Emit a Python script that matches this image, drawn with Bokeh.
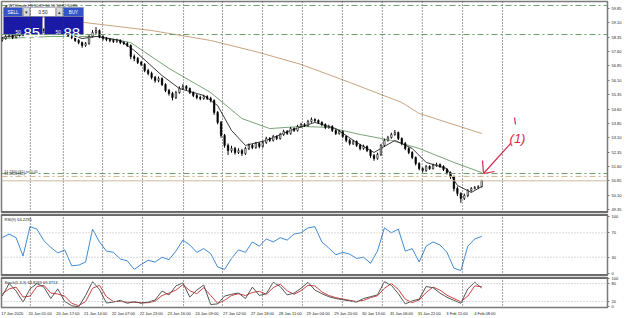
from bokeh.plotting import figure
from bokeh.layouts import column
from bokeh.models import Range1d, FixedTicker, Span, Label, ColumnDataSource
from bokeh.embed import file_html
from bokeh.resources import INLINE

# ---------------- data (2-hour bars, WTI crude) ----------------
opens = [58.20, 58.28, 58.39, 58.44, 58.33, 58.49, 58.44, 58.55, 58.60, 58.70,
         58.75, 58.81, 58.75, 58.70, 58.75, 58.70, 58.65, 58.65, 58.70, 58.55,
         58.44, 58.33, 58.18, 58.07, 57.92, 58.02, 58.39, 58.60, 58.70, 58.39,
         58.28, 58.23, 58.18, 58.13, 58.18, 58.07, 58.02, 57.92, 57.34, 57.24,
         57.03, 56.93, 56.61, 56.46, 56.25, 56.09, 56.19, 55.88, 55.57, 55.41,
         55.20, 55.46, 55.67, 55.78, 55.67, 55.46, 55.31, 55.20, 55.15, 55.25,
         55.15, 55.05, 54.42, 53.90, 53.22, 52.70, 52.43, 52.54, 52.33, 52.43,
         52.28, 52.54, 52.70, 52.59, 52.80, 52.64, 52.85, 53.06, 52.96, 53.16,
         53.06, 53.27, 53.43, 53.32, 53.58, 53.48, 53.69, 53.79, 53.74, 53.95,
         54.05, 54.00, 53.90, 53.79, 53.64, 53.69, 53.48, 53.32, 53.43, 53.16,
         52.96, 52.80, 52.90, 52.70, 52.54, 52.64, 52.43, 52.17, 52.02, 52.22,
         52.70, 52.96, 53.11, 53.27, 53.37, 53.06, 52.80, 52.54, 52.33, 52.07,
         51.75, 51.49, 51.39, 51.60, 51.49, 51.65, 51.70, 51.60, 51.44, 51.28,
         51.07, 50.45, 50.19, 49.93, 50.08, 50.34, 50.45, 50.50, 50.55]
highs = [58.36, 58.47, 58.55, 58.52, 58.58, 58.60, 58.63, 58.70, 58.79, 58.85,
         58.92, 58.88, 58.82, 58.84, 58.80, 58.77, 58.74, 58.80, 58.76, 58.62,
         58.50, 58.40, 58.25, 58.12, 58.10, 58.46, 58.72, 58.88, 58.76, 58.45,
         58.36, 58.30, 58.26, 58.27, 58.24, 58.15, 58.10, 57.98, 57.45, 57.32,
         57.12, 57.00, 56.70, 56.55, 56.33, 56.30, 56.25, 55.95, 55.65, 55.50,
         55.55, 55.78, 55.90, 55.85, 55.72, 55.52, 55.38, 55.30, 55.34, 55.32,
         55.24, 55.10, 54.50, 53.98, 53.30, 52.80, 52.68, 52.62, 52.55, 52.52,
         52.63, 52.80, 52.78, 52.88, 52.86, 52.94, 53.15, 53.13, 53.25, 53.22,
         53.36, 53.52, 53.50, 53.66, 53.64, 53.78, 53.88, 53.86, 54.04, 54.16,
         54.12, 54.06, 53.96, 53.85, 53.78, 53.75, 53.55, 53.51, 53.48, 53.22,
         53.04, 52.98, 52.96, 52.78, 52.74, 52.70, 52.50, 52.25, 52.32, 52.78,
         53.05, 53.20, 53.36, 53.50, 53.42, 53.12, 52.88, 52.60, 52.40, 52.12,
         51.82, 51.56, 51.68, 51.66, 51.74, 51.80, 51.76, 51.66, 51.50, 51.34,
         51.12, 50.55, 50.25, 50.18, 50.42, 50.52, 50.58, 50.62, 50.90]
lows = [58.12, 58.22, 58.33, 58.25, 58.29, 58.38, 58.40, 58.49, 58.55, 58.64,
        58.70, 58.68, 58.62, 58.65, 58.63, 58.58, 58.57, 58.60, 58.48, 58.36,
        58.25, 58.10, 57.98, 57.80, 57.85, 57.96, 58.33, 58.52, 58.30, 58.18,
        58.14, 58.09, 58.05, 58.06, 57.99, 57.94, 57.84, 57.20, 57.10, 56.95,
        56.84, 56.52, 56.36, 56.15, 55.98, 56.00, 55.80, 55.48, 55.30, 55.05,
        55.12, 55.40, 55.60, 55.58, 55.38, 55.22, 55.11, 55.06, 55.08, 55.07,
        54.95, 54.30, 53.80, 53.10, 52.58, 52.20, 52.32, 52.22, 52.25, 52.15,
        52.20, 52.46, 52.50, 52.52, 52.55, 52.58, 52.78, 52.88, 52.90, 52.98,
        53.00, 53.20, 53.25, 53.26, 53.40, 53.42, 53.62, 53.66, 53.68, 53.88,
        53.92, 53.82, 53.70, 53.55, 53.57, 53.40, 53.24, 53.26, 53.08, 52.86,
        52.70, 52.72, 52.62, 52.44, 52.47, 52.35, 52.05, 51.90, 51.95, 52.15,
        52.62, 52.90, 53.05, 53.20, 52.98, 52.70, 52.45, 52.24, 51.98, 51.65,
        51.40, 51.28, 51.32, 51.42, 51.44, 51.58, 51.52, 51.36, 51.18, 50.95,
        50.30, 50.05, 49.70, 49.85, 50.00, 50.28, 50.40, 50.44, 50.50]
closes = [58.28, 58.39, 58.44, 58.33, 58.49, 58.44, 58.55, 58.60, 58.70, 58.75,
          58.81, 58.75, 58.70, 58.75, 58.70, 58.65, 58.65, 58.70, 58.55, 58.44,
          58.33, 58.18, 58.07, 57.92, 58.02, 58.39, 58.60, 58.70, 58.39, 58.28,
          58.23, 58.18, 58.13, 58.18, 58.07, 58.02, 57.92, 57.34, 57.24, 57.03,
          56.93, 56.61, 56.46, 56.25, 56.09, 56.19, 55.88, 55.57, 55.41, 55.20,
          55.46, 55.67, 55.78, 55.67, 55.46, 55.31, 55.20, 55.15, 55.25, 55.15,
          55.05, 54.42, 53.90, 53.22, 52.70, 52.43, 52.54, 52.33, 52.43, 52.28,
          52.54, 52.70, 52.59, 52.80, 52.64, 52.85, 53.06, 52.96, 53.16, 53.06,
          53.27, 53.43, 53.32, 53.58, 53.48, 53.69, 53.79, 53.74, 53.95, 54.05,
          54.00, 53.90, 53.79, 53.64, 53.69, 53.48, 53.32, 53.43, 53.16, 52.96,
          52.80, 52.90, 52.70, 52.54, 52.64, 52.43, 52.17, 52.02, 52.22, 52.70,
          52.96, 53.11, 53.27, 53.37, 53.06, 52.80, 52.54, 52.33, 52.07, 51.75,
          51.49, 51.39, 51.60, 51.49, 51.65, 51.70, 51.60, 51.44, 51.28, 51.07,
          50.45, 50.19, 49.93, 50.08, 50.34, 50.45, 50.50, 50.55, 50.85]

slow_ma_bar = [0, 19, 43, 60, 74, 86, 100, 115, 120, 138]
slow_ma = [59.64, 59.22, 58.70, 58.18, 57.55, 56.93, 55.99, 54.94, 54.37, 53.32]
mid_ma_bar = [0, 14, 28, 37, 48, 60, 69, 77, 86, 94, 103, 112, 120, 130, 138]
mid_ma = [58.28, 58.39, 58.39, 58.07, 56.72, 55.46, 54.10, 53.58, 53.69, 53.64,
          53.27, 52.96, 52.54, 51.81, 51.28]
fast_ma_bar = [0, 8, 17, 23, 27, 34, 38, 46, 51, 58, 62, 66, 70, 76, 83, 90, 96,
               102, 107, 113, 118, 122, 128, 131, 135, 138]
fast_ma = [58.34, 58.54, 58.65, 58.28, 58.39, 58.18, 57.66, 56.35, 55.67, 55.31,
           54.78, 53.48, 52.70, 52.96, 53.48, 53.90, 53.58, 52.85, 52.33, 52.96,
           52.54, 51.81, 51.49, 50.61, 50.24, 50.55]

green_levels = [60.01, 58.49, 51.23]
tan_levels = [51.08]
bid_price = 50.85

rsi = [62, 68, 62, 32, 80, 76, 57, 46, 37, 42, 16, 17, 22, 76, 55, 40, 38, 27, 24, 10,
       18, 25, 22, 30, 26, 40, 58, 50, 38, 44, 36, 14, 10, 28, 42, 38, 55, 48, 60, 55,
       62, 58, 68, 70, 78, 80, 55, 45, 34, 38, 35, 28, 30, 20, 40, 78, 70, 76, 40, 44,
       22, 48, 55, 50, 38, 12, 8, 48, 60, 64]
stoch_main = [38, 80, 55, 18, 62, 80, 68, 30, 62, 20, 6, 2, 40, 86, 60, 15, 18, 24, 14, 20,
              14, 18, 25, 55, 42, 72, 82, 35, 58, 75, 10, 12, 38, 44, 48, 30, 68, 40, 46, 84,
              70, 42, 48, 64, 84, 58, 46, 36, 30, 26, 22, 18, 30, 36, 42, 86, 74, 46, 12, 22,
              28, 70, 66, 48, 34, 24, 14, 62, 84, 65]
stoch_signal = [45, 62, 68, 35, 38, 70, 74, 48, 45, 38, 14, 6, 20, 64, 74, 36, 20, 20, 18, 17,
                16, 16, 21, 40, 48, 58, 76, 56, 46, 66, 40, 14, 24, 40, 46, 40, 50, 54, 44, 66,
                78, 56, 44, 56, 74, 72, 52, 40, 33, 28, 24, 20, 24, 33, 39, 64, 80, 60, 28, 16,
                25, 50, 68, 58, 41, 30, 19, 38, 72, 69]

price_ticks = [59.85, 59.10, 58.35, 57.60, 56.85, 56.10, 55.35, 54.60, 53.85, 53.10,
               52.35, 51.60, 50.85, 50.10, 49.35]
time_labels = ["17 Jan 2020", "20 Jan 01:00", "20 Jan 17:00", "21 Jan 14:00",
               "22 Jan 07:00", "22 Jan 23:00", "23 Jan 16:00", "24 Jan 09:00",
               "27 Jan 02:00", "27 Jan 18:00", "28 Jan 11:00", "29 Jan 04:00",
               "29 Jan 20:00", "30 Jan 13:00", "31 Jan 06:00", "31 Jan 22:00",
               "3 Feb 15:00", "4 Feb 08:00"]

# ---------------- layout / style ----------------
FONT = "Liberation Sans"
AX = "#7a7a7a"
SEP = "#6a6a6a"
X0, X1 = -0.2, 174.2
Y0, Y1 = 49.195, 60.216
xr = Range1d(X0, X1)
grid_bars = [8.1, 17.6, 28.9, 40.4, 52.2, 63.4, 74.9, 86.4, 97.9, 109.4, 120.9, 132.5, 144.0]


def bx(px):
    return X0 + (px - 1) * (X1 - X0) / 606


def py(ypx):
    return Y1 - (ypx - 1) * (Y1 - Y0) / 211


def panel(height, y0, y1, top, bottom, with_x=False):
    p = figure(width=625, height=height, x_range=xr, y_range=Range1d(y0, y1),
               output_backend="svg", toolbar_location=None,
               x_axis_location="below" if with_x else None, y_axis_location="right",
               min_border_left=1, min_border_right=18,
               min_border_top=top, min_border_bottom=bottom,
               background_fill_color="white", border_fill_color="white")
    p.grid.visible = False
    p.outline_line_color = AX
    p.outline_line_width = 1.5
    for ax in p.yaxis:
        ax.axis_line_color = AX
        ax.major_tick_line_color = AX
        ax.major_tick_in = 0
        ax.major_tick_out = 2
        ax.minor_tick_line_color = None
        ax.major_label_standoff = 2
        ax.major_label_text_font = FONT
        ax.major_label_text_font_size = "4px"
        ax.major_label_text_color = "#222222"
    for gx in grid_bars:
        p.add_layout(Span(location=gx, dimension="height", line_color="#3c3c3c",
                          line_dash="1 2", line_width=1))
    return p


# ---------------- main price panel ----------------
p1 = panel(213, Y0, Y1, 1, 1)
p1.yaxis[0].ticker = FixedTicker(ticks=price_ticks)
p1.yaxis[0].major_label_overrides = {t: f"{t:.2f}" for t in price_ticks}
p1.add_layout(Span(location=Y0, dimension="width", line_color=SEP, line_width=3))

for lv in green_levels:
    p1.add_layout(Span(location=lv, dimension="width", line_color="#6a9e6a",
                       line_dash="6 3 2 3", line_width=1))
for lv in tan_levels:
    p1.add_layout(Span(location=lv, dimension="width", line_color="#d2b48c",
                       line_dash="6 3 2 3", line_width=1))
p1.add_layout(Span(location=bid_price, dimension="width", line_color="#cdb9a0", line_width=1))

p1.line(slow_ma_bar, slow_ma, line_color="#c9a47f", line_width=1)
p1.line(mid_ma_bar, mid_ma, line_color="#79a479", line_width=1)
p1.line(fast_ma_bar, fast_ma, line_color="#3a3a3a", line_width=1)

bars = list(range(len(closes)))
src = ColumnDataSource(dict(
    x=bars, h=highs, l=lows,
    top=[max(o, c) for o, c in zip(opens, closes)],
    bot=[min(o, c) for o, c in zip(opens, closes)],
    fill=["white" if c >= o else "black" for o, c in zip(opens, closes)]))
p1.segment(x0="x", y0="l", x1="x", y1="h", source=src, line_color="black", line_width=1)
p1.vbar(x="x", width=0.42, top="top", bottom="bot", source=src,
        fill_color="fill", line_color="black", line_width=0.6)

# bid price tag on the axis
p1.add_layout(Label(x=X1, y=bid_price, x_offset=2, text="50.85", text_font=FONT,
                    text_font_size="4px", text_color="white", text_baseline="middle",
                    background_fill_color="black", text_font_style="bold"))

# header
p1.add_layout(Label(x=X0, y=Y1, x_offset=7, y_offset=-1, text="WTICrude,H1  50.89 50.90 50.82 50.85",
                    text_font=FONT, text_font_size="4px", text_color="#222222", text_baseline="top"))
p1.add_layout(Label(x=X0, y=Y1, x_offset=2, y_offset=-1, text="\u25e2",
                    text_font=FONT, text_font_size="4px", text_color="#444444", text_baseline="top"))

# level captions
p1.add_layout(Label(x=X0, y=green_levels[2], x_offset=3, y_offset=0, text="51.2300 (S1) ret 0.05",
                    text_font=FONT, text_font_size="3.5px", text_color="#333333", text_baseline="bottom"))
p1.add_layout(Label(x=X0, y=tan_levels[0], x_offset=3, y_offset=0, text="51.0800 (S2)",
                    text_font=FONT, text_font_size="3.5px", text_color="#333333", text_baseline="bottom"))

# one-click trading panel
panel_px = [  # left, right, top, bottom, fill
    (3, 22, 7, 16, "#3355c8"), (23, 29, 7, 16, "#d9d9d9"), (30, 55, 7, 16, "#ffffff"),
    (56, 62, 7, 16, "#d9d9d9"), (63, 83, 7, 16, "#3355c8"),
    (3, 42, 16, 34, "#1a1aa6"), (44, 83, 16, 34, "#1a1aa6")]
p1.quad(left=[bx(a[0]) for a in panel_px], right=[bx(a[1]) for a in panel_px],
        top=[py(a[2]) for a in panel_px], bottom=[py(a[3]) for a in panel_px],
        fill_color=[a[4] for a in panel_px], line_color="#8a8aa0", line_width=0.6)
small = dict(text_font=FONT, text_baseline="middle", text_align="center")
p1.add_layout(Label(x=bx(12.5), y=py(11.5), text="SELL", text_font_size="4.5px", text_color="white", **small))
p1.add_layout(Label(x=bx(73), y=py(11.5), text="BUY", text_font_size="4.5px", text_color="white", **small))
p1.add_layout(Label(x=bx(42.5), y=py(11.5), text="0.50", text_font_size="4.5px", text_color="#111111", **small))
p1.add_layout(Label(x=bx(26), y=py(11.5), text="\u25be", text_font_size="4.5px", text_color="#333333", **small))
p1.add_layout(Label(x=bx(59), y=py(11.5), text="\u25b4", text_font_size="4.5px", text_color="#333333", **small))
big = dict(text_font=FONT, text_baseline="alphabetic", text_align="left", text_color="white")
p1.add_layout(Label(x=bx(15), y=py(31), text="50", text_font_size="5px", **big))
p1.add_layout(Label(x=bx(23), y=py(32), text="85", text_font_size="15px", **big))
p1.add_layout(Label(x=bx(55), y=py(31), text="50", text_font_size="5px", **big))
p1.add_layout(Label(x=bx(63), y=py(32), text="88", text_font_size="15px", **big))

# hand-drawn red note
RED = "#d8284f"
note_px = [(483, 173, 510, 143), (483, 173, 482, 160), (483, 173, 494, 171), (514, 117, 515, 124)]
p1.segment(x0=[bx(a[0]) for a in note_px], y0=[py(a[1]) for a in note_px],
           x1=[bx(a[2]) for a in note_px], y1=[py(a[3]) for a in note_px],
           line_color=RED, line_width=1.2)
p1.add_layout(Label(x=bx(517), y=py(138), text="(1)", text_font=FONT, text_font_size="13px",
                    text_color=RED, text_align="center", text_baseline="middle",
                    text_font_style="italic"))

# ---------------- RSI panel ----------------
osc_bars = list(range(0, len(closes), 2))
p2 = panel(63, 0, 100, 1, 1)
p2.yaxis[0].ticker = FixedTicker(ticks=[4, 30, 70, 96])
p2.yaxis[0].major_label_overrides = {4: "0", 30: "30", 70: "70", 96: "100"}
p2.add_layout(Span(location=0, dimension="width", line_color=SEP, line_width=3))
p2.add_layout(Span(location=100, dimension="width", line_color=SEP, line_width=3))
for lv in (30, 70):
    p2.add_layout(Span(location=lv, dimension="width", line_color="#b8b8b8", line_dash="1 2", line_width=1))
p2.line(osc_bars, rsi, line_color="#3f8ad4", line_width=1)
p2.add_layout(Label(x=X0, y=100, x_offset=3, y_offset=-2, text="RSI(9) 64.2295", text_font=FONT,
                    text_font_size="4px", text_color="#222222", text_baseline="top"))

# ---------------- Stochastic panel ----------------
p3 = panel(42, 0, 100, 1, 10, with_x=True)
p3.yaxis[0].ticker = FixedTicker(ticks=[5, 20, 80, 97])
p3.yaxis[0].major_label_overrides = {5: "0", 20: "20", 80: "80", 97: "100"}
p3.add_layout(Span(location=100, dimension="width", line_color=SEP, line_width=3))
for lv in (20, 80):
    p3.add_layout(Span(location=lv, dimension="width", line_color="#b8b8b8", line_dash="1 2", line_width=1))
p3.line(osc_bars, stoch_signal, line_color="#d04040", line_width=1)
p3.line(osc_bars, stoch_main, line_color="#555555", line_width=1)
p3.add_layout(Label(x=X0, y=100, x_offset=3, y_offset=-2, text="Stoch(5,3,3) 64.8269 69.3713",
                    text_font=FONT, text_font_size="4px", text_color="#222222", text_baseline="top"))
xa = p3.xaxis[0]
label_shift = 3.4   # centred labels -> start at the tick like MT4
tick_pos = [8 * k - 0.5 + label_shift for k in range(len(time_labels))]
xa.ticker = FixedTicker(ticks=tick_pos)
xa.major_label_overrides = {t: s for t, s in zip(tick_pos, time_labels)}
xa.major_label_text_font = FONT
xa.major_label_text_font_size = "4px"
xa.major_label_text_color = "#222222"
xa.major_label_standoff = 1
xa.axis_line_color = AX
xa.major_tick_line_color = None
xa.major_tick_in = 0
xa.major_tick_out = 2
xa.minor_tick_line_color = None

layout = column(p1, p2, p3, spacing=0)
open("out.html", "w").write(file_html(layout, INLINE))
